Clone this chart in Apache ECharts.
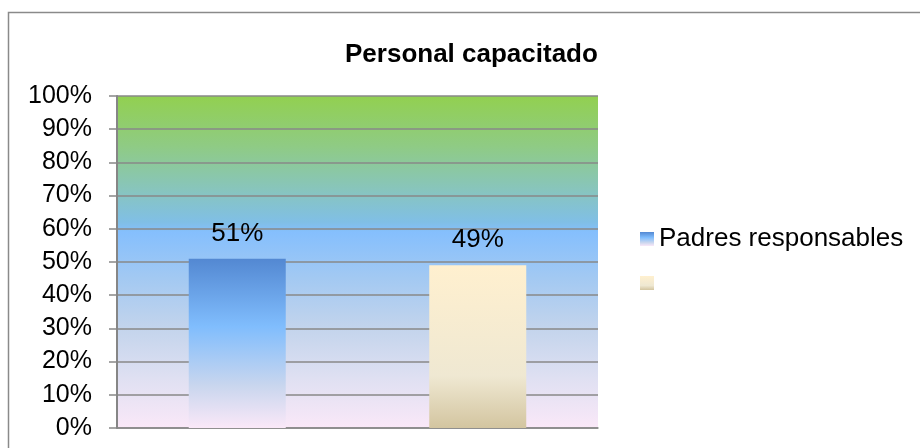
<!DOCTYPE html>
<html>
<head>
<meta charset="utf-8">
<script src="https://cdn.jsdelivr.net/npm/echarts@6/dist/echarts.min.js"></script>
<style>
  html, body { margin: 0; padding: 0; background: #ffffff; }
  #chart { width: 920px; height: 448px; }
</style>
</head>
<body>
<div id="chart"></div>
<script>
// datos del grafico
var categorias = ['Padres responsables', ' '];
var valoresPadres = [51, '-'];
var valoresOtros = ['-', 49];
var yMin = 0;
var yMax = 100;
var yPaso = 10;

var chart = echarts.init(document.getElementById('chart'), null, { renderer: 'canvas' });

var fondoPlot = new echarts.graphic.LinearGradient(0, 0, 0, 1, [
  { offset: 0, color: '#92d050' },
  { offset: 0.15, color: '#8fcb84' },
  { offset: 0.28, color: '#88c5bc' },
  { offset: 0.38, color: '#80bfe6' },
  { offset: 0.41, color: '#85bffd' },
  { offset: 0.55, color: '#a3c9f2' },
  { offset: 0.7, color: '#c3d4ec' },
  { offset: 0.85, color: '#dfe0f2' },
  { offset: 1, color: '#fae8f8' }
]);

var colorAzul = new echarts.graphic.LinearGradient(0, 0, 0, 1, [
  { offset: 0, color: '#5388d2' },
  { offset: 0.4, color: '#80bdfd' },
  { offset: 0.75, color: '#c9d6ee' },
  { offset: 1, color: '#fae8f8' }
]);

var colorCrema = new echarts.graphic.LinearGradient(0, 0, 0, 1, [
  { offset: 0, color: '#fff0cf' },
  { offset: 0.68, color: '#efe8d2' },
  { offset: 1, color: '#d3c5a0' }
]);

var etiqueta = {
  show: true,
  position: 'top',
  distance: 12,
  formatter: '{c}%',
  color: '#000000',
  fontFamily: 'Liberation Sans, Arial, sans-serif',
  fontSize: 26
};

var option = {
  backgroundColor: '#ffffff',
  animation: false,
  graphic: [{
    type: 'rect',
    shape: { x: 8.5, y: 12.5, width: 1000, height: 1000 },
    style: { fill: 'none', stroke: '#8a8a8a', lineWidth: 1.5 },
    silent: true
  }],
  title: {
    text: 'Personal capacitado',
    left: 340,
    top: 37,
    textStyle: {
      fontFamily: 'Liberation Sans, Arial, sans-serif',
      fontWeight: 'bold',
      fontSize: 26,
      color: '#000000'
    }
  },
  legend: {
    orient: 'vertical',
    left: 635,
    top: 221,
    icon: 'rect',
    itemWidth: 14,
    itemHeight: 14,
    itemGap: 18,
    data: categorias,
    textStyle: {
      fontFamily: 'Liberation Sans, Arial, sans-serif',
      fontSize: 26,
      color: '#000000'
    }
  },
  grid: {
    left: 117,
    right: 322,
    top: 96,
    bottom: 20,
    show: true,
    borderWidth: 0,
    backgroundColor: fondoPlot
  },
  xAxis: {
    type: 'category',
    data: categorias,
    axisLine: { show: true, lineStyle: { color: '#888888', width: 1.5 } },
    axisTick: { show: false },
    axisLabel: { show: false }
  },
  yAxis: {
    type: 'value',
    min: yMin,
    max: yMax,
    interval: yPaso,
    axisLine: { show: true, lineStyle: { color: '#868686', width: 2 } },
    axisTick: { show: true, length: 8, lineStyle: { color: '#888888', width: 1.5 } },
    splitLine: { show: true, lineStyle: { color: '#888888', width: 1.5 } },
    axisLabel: {
      formatter: '{value}%',
      margin: 25,
      color: '#000000',
      fontFamily: 'Liberation Sans, Arial, sans-serif',
      fontSize: 25
    }
  },
  series: [{
    name: categorias[0],
    type: 'bar',
    stack: 'total',
    barWidth: 97,
    data: valoresPadres,
    itemStyle: { color: colorAzul },
    label: etiqueta
  }, {
    name: categorias[1],
    type: 'bar',
    stack: 'total',
    barWidth: 97,
    data: valoresOtros,
    itemStyle: { color: colorCrema },
    label: etiqueta
  }]
};

chart.setOption(option);
</script>
</body>
</html>
